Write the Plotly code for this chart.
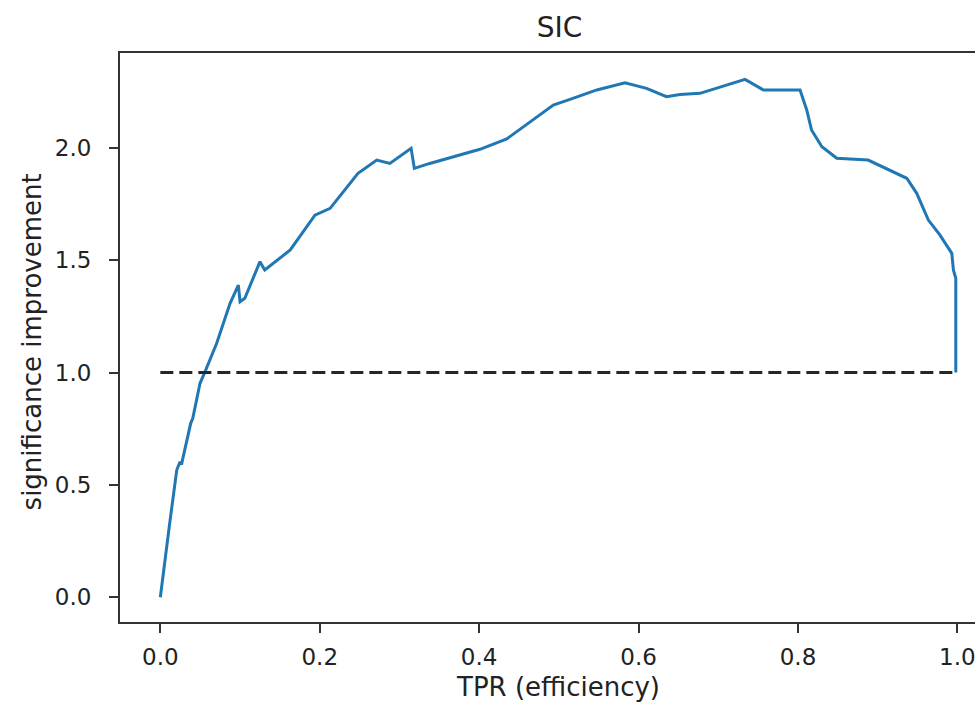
import plotly.graph_objects as go

# SIC curve: signal efficiency (TPR) vs. significance improvement
tpr = [0.0, 0.0046, 0.008, 0.0114, 0.0206, 0.0247, 0.0265, 0.0381, 0.0407, 0.0498,
       0.056, 0.0707, 0.0875, 0.0979, 0.100, 0.106, 0.125, 0.131, 0.163, 0.194, 0.213,
       0.248, 0.2715, 0.288, 0.3146, 0.3187, 0.338, 0.3676, 0.401, 0.4346, 0.4638,
       0.493, 0.514, 0.5476, 0.583, 0.610, 0.635, 0.652, 0.677, 0.7336, 0.7566,
       0.8026, 0.811, 0.817, 0.830, 0.8487, 0.888, 0.9155, 0.9365, 0.949, 0.9636,
       0.978, 0.993, 0.995, 0.998, 0.998, 0.998]
sic = [0.0, 0.129, 0.24, 0.32, 0.566, 0.603, 0.59, 0.774, 0.796, 0.952,
       1.003, 1.13, 1.308, 1.389, 1.315, 1.33, 1.493, 1.456, 1.545, 1.70, 1.73,
       1.886, 1.945, 1.93, 1.997, 1.908, 1.93, 1.96, 1.993, 2.039, 2.116,
       2.19, 2.215, 2.257, 2.289, 2.264, 2.227, 2.237, 2.242, 2.304, 2.257,
       2.257, 2.168, 2.079, 2.004, 1.953, 1.945, 1.901, 1.864, 1.797, 1.678,
       1.612, 1.530, 1.456, 1.419, 1.30, 1.0]

# reference line: no improvement
baseline_x = [0.0, 1.0]
baseline_y = [1.0, 1.0]

x_ticks = [0.0, 0.2, 0.4, 0.6, 0.8, 1.0]
y_ticks = [0.0, 0.5, 1.0, 1.5, 2.0]

FONT = "DejaVu Sans"
TXT = "#222222"

fig = go.Figure()
fig.add_trace(go.Scatter(x=tpr, y=sic, mode="lines",
                         line=dict(color="#1f77b4", width=3), showlegend=False))
fig.add_trace(go.Scatter(x=baseline_x, y=baseline_y, mode="lines",
                         line=dict(color="#262626", width=3, dash="13px,6px"),
                         showlegend=False))

axis_common = dict(showgrid=False, zeroline=False, showline=True,
                   linecolor="#333333", linewidth=2, ticks="outside",
                   ticklen=9, tickwidth=2, tickcolor="#333333",
                   tickfont=dict(family=FONT, size=23, color=TXT),
                   tickformat=".1f", ticklabeloverflow="allow")

fig.update_layout(
    width=975, height=707,
    margin=dict(l=120, r=0, t=53, b=85),
    paper_bgcolor="white", plot_bgcolor="white",
    xaxis=dict(range=[-0.0506, 1.0221], tickvals=x_ticks, mirror=True,
               ticklabelstandoff=4, **axis_common),
    yaxis=dict(range=[-0.1099, 2.4213], tickvals=y_ticks, mirror=False,
               ticklabelstandoff=13, **axis_common),
    title=dict(text="SIC", x=0.514, xref="paper", xanchor="center",
               y=1 - 27 / 707, yref="container", yanchor="middle",
               font=dict(family=FONT, size=28, color=TXT)),
    annotations=[
        dict(text="TPR (efficiency)", xref="paper", yref="paper",
             x=(557.5 - 120) / 855, y=-(687 - 622) / 569,
             xanchor="center", yanchor="middle", showarrow=False,
             font=dict(family=FONT, size=26, color=TXT)),
        dict(text="significance improvement", xref="paper", yref="paper",
             x=(31.7 - 120) / 855, y=(622 - 341.7) / 569, textangle=-90,
             xanchor="center", yanchor="middle", showarrow=False,
             font=dict(family=FONT, size=26, color=TXT)),
    ],
)

fig.write_html("out.html")
